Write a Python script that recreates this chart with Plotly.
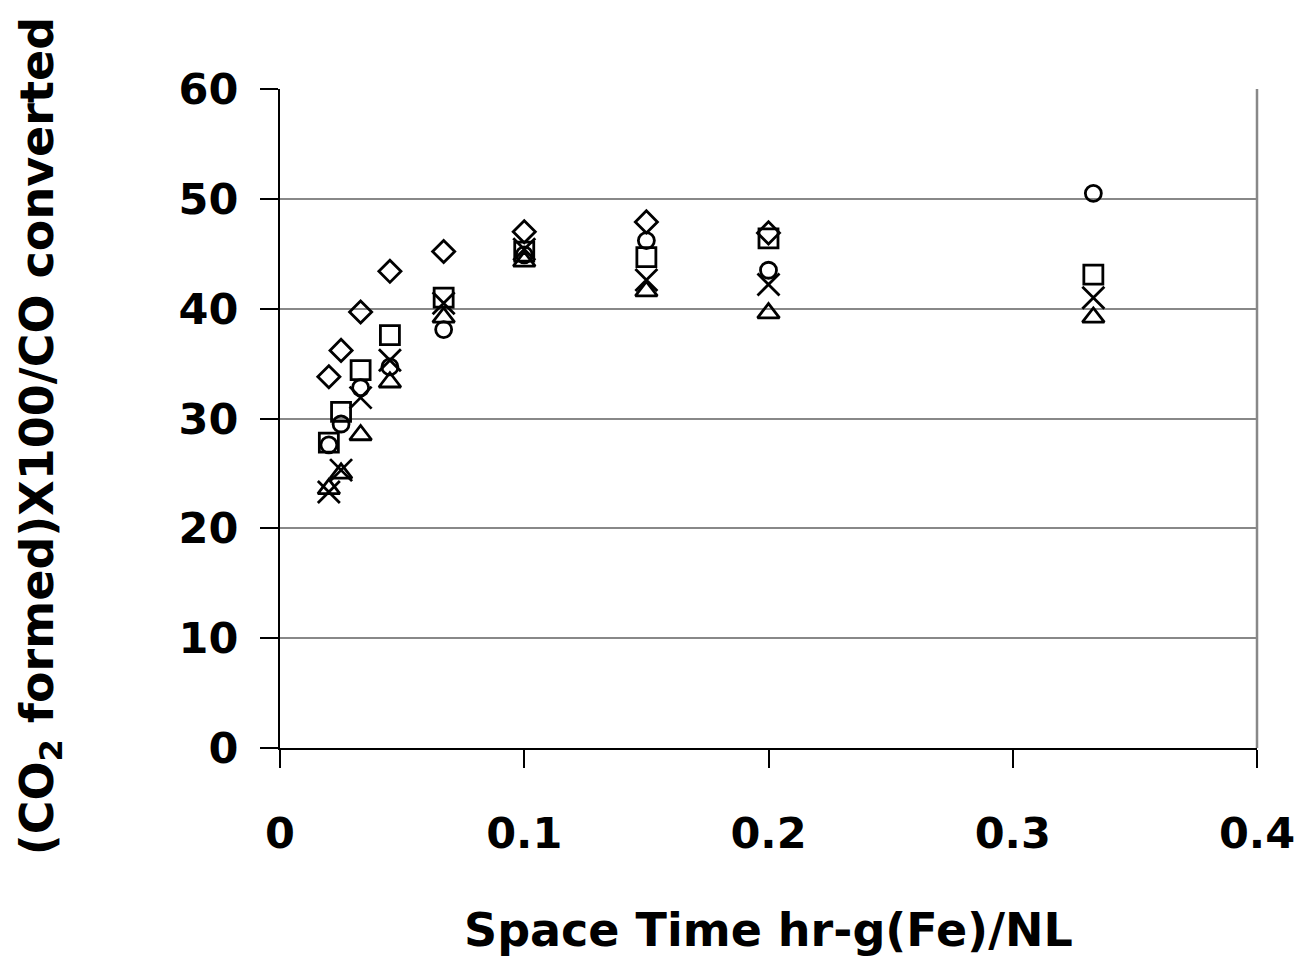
import plotly.graph_objects as go

space_time = [0.02, 0.025, 0.033, 0.045, 0.067, 0.1, 0.15, 0.2, 0.333]

diamond_vals = [33.8, 36.2, 39.7, 43.4, 45.2, 47.0, 47.9, 46.9]
square_vals = [27.8, 30.6, 34.4, 37.6, 41.0, 45.2, 44.7, 46.4, 43.1]
x_vals = [23.3, 25.3, 31.9, 35.3, 40.5, 45.4, 42.6, 42.2, 41.0]
circle_vals = [27.6, 29.5, 32.8, 34.7, 38.1, 44.9, 46.2, 43.5, 50.5]
triangle_vals = [23.6, 25.0, 28.5, 33.3, 39.2, 44.3, 41.6, 39.6, 39.2]

x_ticks = [0, 0.1, 0.2, 0.3, 0.4]
x_tick_text = ["0", "0.1", "0.2", "0.3", "0.4"]
y_ticks = [0, 10, 20, 30, 40, 50, 60]

FONT = "DejaVu Sans, Liberation Sans, Arial, sans-serif"

fig = go.Figure()

series = [
    (diamond_vals, "diamond-open", 17),
    (square_vals, "square-open", 19),
    (circle_vals, "circle-open", 16),
    (triangle_vals, "triangle-up-open", 19),
    (x_vals, "x-thin-open", 22),
]
for vals, sym, size in series:
    fig.add_trace(go.Scatter(
        x=space_time[:len(vals)], y=vals, mode="markers",
        marker=dict(symbol=sym, size=size, color="black",
                    line=dict(color="black", width=2.8)),
        showlegend=False, cliponaxis=False,
    ))

fig.update_layout(
    width=1301, height=958,
    paper_bgcolor="white", plot_bgcolor="white",
    margin=dict(l=280, r=44, t=89, b=210, autoexpand=False),
    font=dict(family=FONT, size=43, color="black"),
    xaxis=dict(
        range=[0, 0.4], tickvals=x_ticks, ticktext=x_tick_text,
        showgrid=False, zeroline=False, automargin=False,
        showline=True, linecolor="black", linewidth=2,
        ticks="outside", ticklen=18, tickwidth=2, tickcolor="black",
        tickfont=dict(family=FONT, size=43, color="black", weight="bold"),
        ticklabelstandoff=28, ticklabeloverflow="allow",
        mirror=False,
    ),
    yaxis=dict(
        range=[0, 60], tickvals=y_ticks,
        showgrid=True, gridcolor="#888888", gridwidth=2,
        zeroline=False, automargin=False,
        showline=True, linecolor="black", linewidth=2,
        ticks="outside", ticklen=18, tickwidth=2, tickcolor="black",
        tickfont=dict(family=FONT, size=43, color="black", weight="bold"),
        ticklabelstandoff=13,
    ),
    shapes=[
        dict(type="line", xref="paper", yref="paper", x0=1, x1=1, y0=0, y1=1,
             line=dict(color="#888888", width=2.5)),
    ],
    annotations=[
        dict(text="<b>Space Time hr-g(Fe)/NL</b>", xref="paper", yref="paper",
             x=0.5, y=-0.276, xanchor="center", yanchor="middle", showarrow=False,
             font=dict(family=FONT, size=46, color="black")),
        dict(text="<b>(CO<sub>2</sub> formed)X100/CO converted</b>", xref="paper", yref="paper",
             x=-0.2456, y=0.473, xanchor="center", yanchor="middle", showarrow=False,
             textangle=-90, font=dict(family=FONT, size=46, color="black")),
    ],
)

fig.write_html("out.html")
